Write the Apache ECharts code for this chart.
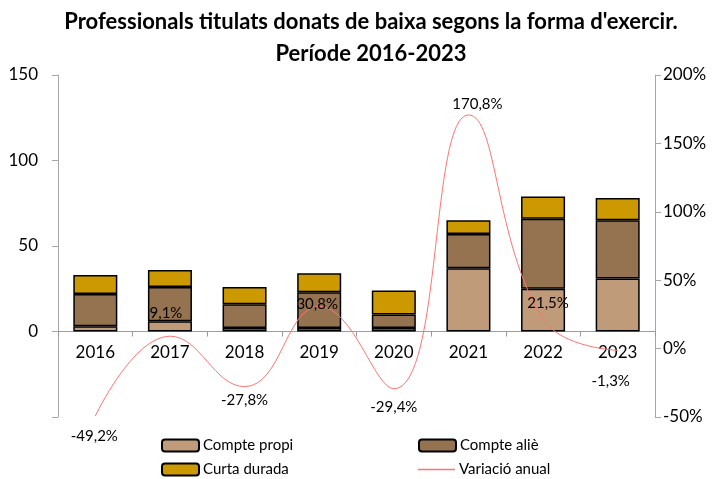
<!DOCTYPE html>
<html>
<head>
<meta charset="utf-8">
<script src="https://cdn.jsdelivr.net/npm/echarts@6/dist/echarts.min.js"></script>
<style>html,body{margin:0;padding:0;background:#fff}#c{width:717px;height:479px}</style>
</head>
<body>
<div id="c"></div>
<script>
const years = ['2016','2017','2018','2019','2020','2021','2022','2023'];
const comptePropi = [3, 6, 2, 2, 2, 37, 25, 31];
const compteAlie = [19, 20, 14, 21, 8, 20, 41, 34];
const curtaDurada = [11, 10, 10, 11, 14, 8, 13, 13];
const variacio = [-49.2, 9.1, -27.8, 30.8, -29.4, 170.8, 21.5, -1.3];
const leftTicks = [-50, 150, 50];
const rightTicks = [-50, 200, 50];

const labelOffsets = [[-1,20],[-4,-23],[0,14],[-2,-2],[0,18],[9,-11],[5,-16],[-7,31]];
const FONT = 'Lato';
const GRID = {left: 58, right: 62, top: 75, bottom: 62};
const plotH = 479 - GRID.top - GRID.bottom;
// distance from the bottom of the plot to the value 0 on the left axis
const zeroOffset = plotH * (0 - leftTicks[0]) / (leftTicks[1] - leftTicks[0]);

const chart = echarts.init(document.getElementById('c'));
const barStyle = c => ({color: c, borderColor: '#000', borderWidth: 1.5});
const legendCommon = {itemWidth: 37, itemHeight: 12, itemGap: 4, padding: 0,
  textStyle: {fontFamily: FONT, fontSize: 15, color: '#000', padding: [0,0,0,-1]}, selectedMode: false};
chart.setOption({
  animation: false,
  textStyle: {fontFamily: FONT},
  title: {
    text: "Professionals titulats donats de baixa segons la forma d'exercir.\nPeríode 2016-2023",
    left: 366, textAlign: 'center', top: 1,
    textStyle: {fontFamily: FONT, fontWeight: 'bold', fontSize: 22, lineHeight: 32, color: '#000'}
  },
  legend: [
    Object.assign({left: 161, top: 438, data: ['Compte propi']}, legendCommon),
    Object.assign({left: 418, top: 438, data: ['Compte aliè']}, legendCommon),
    Object.assign({left: 161, top: 462, data: ['Curta durada']}, legendCommon),
    Object.assign({}, legendCommon, {left: 418, top: 462, data: [{name: 'Variació anual', icon: 'rect', itemStyle: {color: '#FF7373', borderWidth: 0}}], itemHeight: 1.5})
  ],
  grid: GRID,
  xAxis: {
    type: 'category', data: years, position: 'bottom', offset: -zeroOffset,
    axisLine: {onZero: false, lineStyle: {color: '#FF7373', width: 1}},
    axisTick: {show: true, length: 5, lineStyle: {color: '#999'}},
    axisLabel: {fontFamily: FONT, fontSize: 17, color: '#000', margin: 13}
  },
  yAxis: [
    {type: 'value', min: leftTicks[0], max: leftTicks[1], interval: leftTicks[2],
      splitLine: {show: false},
      axisLine: {show: true, lineStyle: {color: '#A6A6A6'}},
      axisTick: {show: true, length: 6, lineStyle: {color: '#A6A6A6'}},
      axisLabel: {fontFamily: FONT, fontSize: 17, color: '#000', margin: 20,
        formatter: v => v < 0 ? '' : String(v)}},
    {type: 'value', min: rightTicks[0], max: rightTicks[1], interval: rightTicks[2],
      splitLine: {show: false},
      axisLine: {show: true, lineStyle: {color: '#A6A6A6'}},
      axisTick: {show: true, length: 6, lineStyle: {color: '#A6A6A6'}},
      axisLabel: {fontFamily: FONT, fontSize: 17, color: '#000', margin: 8,
        formatter: v => v + '%'}}
  ],
  series: [
    {name: 'Compte propi', type: 'bar', stack: 't', data: comptePropi, barWidth: '59%', itemStyle: barStyle('#BF9B7A')},
    {name: 'Compte aliè', type: 'bar', stack: 't', data: compteAlie, itemStyle: barStyle('#957350')},
    {name: 'Curta durada', type: 'bar', stack: 't', data: curtaDurada, itemStyle: barStyle('#CC9900')},
    {name: 'Variació anual', type: 'line', yAxisIndex: 1, z: 5, smooth: 0.45,
      symbol: 'circle', symbolSize: 0.1, itemStyle: {color: '#FF7373'},
      lineStyle: {color: '#FF7373', width: 1},
      data: variacio.map((v, i) => ({value: v, label: {offset: labelOffsets[i]}})),
      label: {show: true, position: 'inside', fontFamily: FONT, fontSize: 15, color: '#000',
        formatter: p => p.value.toFixed(1).replace('.', ',') + '%'}}
  ]
});
</script>
</body>
</html>
